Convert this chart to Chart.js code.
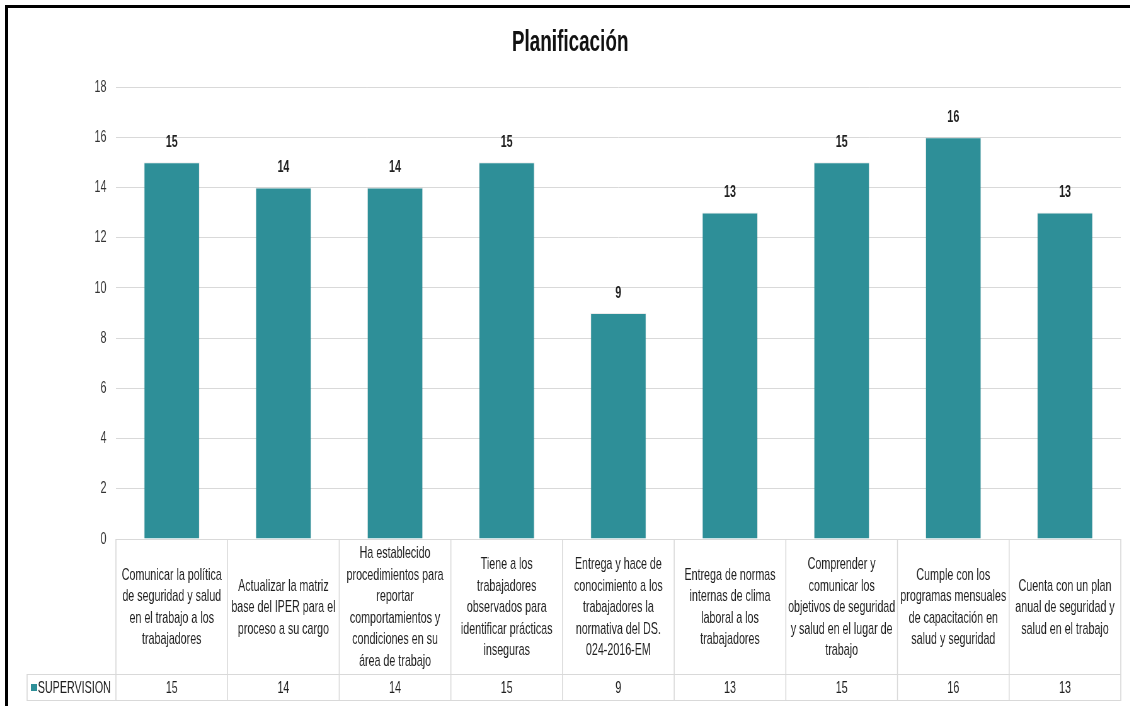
<!DOCTYPE html>
<html>
<head>
<meta charset="utf-8">
<title>Planificación</title>
<script src="https://cdn.jsdelivr.net/npm/chart.js@4.4.0/dist/chart.umd.min.js"></script>
<style>
  html, body { margin: 0; background: #fff; overflow: hidden; width: 1130px; height: 706px; }
  #escala { position: absolute; left: 0; top: 0; width: 1794px; height: 706px; transform-origin: 0 0; }
  #borde {
    position: absolute; left: 5px; top: 5px; width: 1125px; height: 701px;
    border-left: 3px solid #000; border-top: 3px solid #000;
    box-sizing: border-box; pointer-events: none;
  }
</style>
</head>
<body>
<div id="escala"><canvas id="grafico" width="1794" height="706"></canvas></div>
<div id="borde"></div>
<script>
// Datos del gráfico
const titulo = 'Planificación';
const categorias = [
    ['Comunicar la política', 'de seguridad y salud', 'en el trabajo a los', 'trabajadores'],
    ['Actualizar la matriz', 'base del IPER para el', 'proceso a su cargo'],
    ['Ha establecido', 'procedimientos para', 'reportar', 'comportamientos y', 'condiciones en su', 'área de trabajo'],
    ['Tiene a los', 'trabajadores', 'observados para', 'identificar prácticas', 'inseguras'],
    ['Entrega y hace de', 'conocimiento a los', 'trabajadores la', 'normativa del DS.', '024-2016-EM'],
    ['Entrega de normas', 'internas de clima', 'laboral a los', 'trabajadores'],
    ['Comprender y', 'comunicar los', 'objetivos de seguridad', 'y salud en el lugar de', 'trabajo'],
    ['Cumple con los', 'programas mensuales', 'de capacitación en', 'salud y seguridad'],
    ['Cuenta con un plan', 'anual de seguridad y', 'salud en el trabajo']
];
const serie = 'SUPERVISION';
const supervision = [15, 14, 14, 15, 9, 13, 15, 16, 13];
const ejeYMax = 18;
const ejeYPaso = 2;

// La imagen original está comprimida a lo ancho: se dibuja más ancho y se encoge
const compresion = 0.63;
document.getElementById('escala').style.transform = `scaleX(${compresion})`;

const colorBarra = '#2e8f98';
const colorLinea = '#d9d9d9';
const colorTexto = '#1f1f1f';
const fuente = "'Liberation Sans', Arial, sans-serif";

Chart.defaults.font.family = fuente;
Chart.defaults.color = colorTexto;

// Título y etiquetas de valor encima de cada barra
const etiquetas = {
    id: 'etiquetas',
    afterDatasetsDraw(chart) {
        const ctx = chart.ctx;
        const meta = chart.getDatasetMeta(0);
        ctx.save();
        ctx.textAlign = 'center';
        ctx.textBaseline = 'middle';
        ctx.fillStyle = '#111';
        ctx.font = 'bold 30px ' + fuente;
        ctx.fillText(titulo, 905, 43);

        ctx.font = 'bold 17px ' + fuente;
        ctx.fillStyle = colorTexto;
        meta.data.forEach((barra, i) => {
            ctx.fillText(supervision[i], barra.x, barra.y - 20);
        });
        ctx.restore();
    }
};

// Tabla de datos debajo del gráfico (estilo Excel)
const tabla = {
    id: 'tabla',
    afterDraw(chart) {
        const ctx = chart.ctx;
        const x = chart.scales.x;
        const area = chart.chartArea;
        const ancho = (area.right - area.left) / categorias.length;
        const arriba = area.bottom;
        const medio = arriba + 135;
        const abajo = medio + 26;
        const izq = 43;

        ctx.save();
        ctx.strokeStyle = colorLinea;
        ctx.lineWidth = 1;
        ctx.beginPath();
        ctx.moveTo(area.left, arriba + 0.5); ctx.lineTo(area.right, arriba + 0.5);
        ctx.moveTo(izq, medio + 0.5); ctx.lineTo(area.right, medio + 0.5);
        ctx.moveTo(izq, abajo + 0.5); ctx.lineTo(area.right, abajo + 0.5);
        ctx.stroke();
        ctx.lineWidth = 1 / compresion;
        ctx.beginPath();
        ctx.moveTo(izq, medio); ctx.lineTo(izq, abajo + 1);
        for (let i = 0; i <= categorias.length; i++) {
            const bx = area.left + i * ancho;
            ctx.moveTo(bx, arriba); ctx.lineTo(bx, abajo + 1);
        }
        ctx.stroke();

        ctx.fillStyle = colorTexto;
        ctx.textAlign = 'center';
        ctx.textBaseline = 'middle';
        ctx.font = '17px ' + fuente;
        const alto = 21.5;
        categorias.forEach((lineas, i) => {
            const cx = x.getPixelForValue(i);
            const y0 = (arriba + medio) / 2 + 1 - (lineas.length - 1) * alto / 2;
            lineas.forEach((l, j) => ctx.fillText(l, cx, y0 + j * alto));
            ctx.fillText(supervision[i], cx, (medio + abajo) / 2 + 1);
        });

        // leyenda de la serie
        ctx.fillStyle = colorBarra;
        ctx.fillRect(49, (medio + abajo) / 2 - 3, 10, 7);
        ctx.fillStyle = colorTexto;
        ctx.textAlign = 'left';
        ctx.fillText(serie, 60, (medio + abajo) / 2 + 1);
        ctx.restore();
    }
};

new Chart(document.getElementById('grafico'), {
    type: 'bar',
    data: {
        labels: categorias,
        datasets: [{
            label: serie,
            data: supervision,
            backgroundColor: colorBarra,
            borderColor: 'rgba(0,0,0,0.08)',
            borderWidth: 1,
            categoryPercentage: 1,
            barPercentage: 0.5
        }]
    },
    options: {
        responsive: false,
        animation: false,
        layout: { padding: { top: 87, right: 15, bottom: 6, left: 0 } },
        plugins: {
            legend: { display: false },
            tooltip: { enabled: false },
            title: { display: false }
        },
        scales: {
            x: {
                ticks: { display: false },
                grid: { display: false },
                border: { display: false },
                afterFit(s) { s.height = 161; }
            },
            y: {
                min: 0,
                max: ejeYMax,
                ticks: { stepSize: ejeYPaso, padding: 15, color: '#333', font: { size: 17 } },
                grid: { color: colorLinea, drawTicks: false },
                border: { display: false },
                afterFit(s) { s.width = 184; }
            }
        }
    },
    plugins: [etiquetas, tabla]
});
</script>
</body>
</html>
